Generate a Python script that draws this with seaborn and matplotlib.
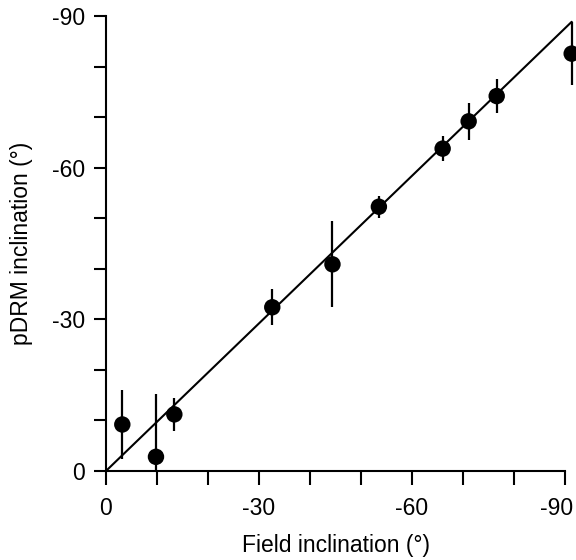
import numpy as np
import pandas as pd
import matplotlib
matplotlib.use("Agg")
import matplotlib.pyplot as plt
import matplotlib.transforms as mtransforms
import seaborn as sns

# values (degrees)
field_inc = [-3.2, -9.8, -13.4, -32.6, -44.4, -53.5, -66.0, -71.1, -76.6, -91.3]
pdrm_inc = [-9.2, -2.8, -11.2, -32.4, -40.9, -52.3, -63.8, -69.2, -74.2, -82.6]
err_up = [6.8, 12.4, 3.3, 3.6, 8.5, 2.2, 2.5, 3.6, 3.4, 6.3]
err_down = [6.9, 2.8, 3.3, 3.6, 8.5, 2.2, 2.5, 3.6, 3.4, 6.3]

# fitted line
line_x = [0, -91.3]
line_y = [0, -88.9]

df = pd.DataFrame({"field": field_inc, "pdrm": pdrm_inc})
ref = pd.DataFrame({"x": line_x, "y": line_y})

sns.set_style("ticks")
plt.rcParams["font.family"] = ["Liberation Sans", "DejaVu Sans"]
plt.rcParams["axes.unicode_minus"] = False
plt.rcParams["text.color"] = "black"
plt.rcParams["axes.labelcolor"] = "black"
plt.rcParams["xtick.labelcolor"] = "black"
plt.rcParams["ytick.labelcolor"] = "black"

fig = plt.figure(figsize=(5.76, 5.6), dpi=100)
ax = fig.add_axes([0.184, 0.159, 0.797, 0.812])

sns.lineplot(data=ref, x="x", y="y", color="black", linewidth=1.5, ax=ax)
ax.lines[-1].set_clip_on(False)
# y is inverted, so "up" on screen is the more negative side
ax.errorbar(df["field"], df["pdrm"], yerr=[err_up, err_down], fmt="none",
            ecolor="black", elinewidth=1.6, capsize=0, clip_on=False)
sns.scatterplot(data=df, x="field", y="pdrm", color="black", s=140,
                edgecolor="none", ax=ax, clip_on=False, zorder=5)

ax.set_xlim(0, -90)
ax.set_ylim(0, -90)
ax.set_xticks([0, -30, -60, -90])
ax.set_yticks([0, -30, -60, -90])
ax.set_xticks(np.arange(0, -91, -10), minor=True)
ax.set_yticks(np.arange(0, -91, -10), minor=True)
ax.set_xticklabels(["0", "-30", "-60", "-90"])
ax.set_yticklabels(["0", "-30", "-60", "-90"])

for side in ["top", "right"]:
    ax.spines[side].set_visible(False)
for side in ["left", "bottom"]:
    ax.spines[side].set_linewidth(1.5)
    ax.spines[side].set_color("black")

ax.tick_params(which="both", direction="out", length=9, width=1.5,
               color="black", labelcolor="black", labelsize=16.5)
ax.tick_params(axis="x", which="both", length=10, pad=9)
ax.tick_params(axis="y", which="both", pad=6)

# last x label sits a little left of its tick in the reference
shift = mtransforms.ScaledTranslation(-8 / 100, 0, fig.dpi_scale_trans)
lab = ax.get_xticklabels()[-1]
lab.set_transform(lab.get_transform() + shift)

ax.set_xlabel("Field inclination (°)", fontsize=16.5, labelpad=10, color="black")
ax.set_ylabel("pDRM inclination (°)", fontsize=16.5, labelpad=14, color="black")

fig.savefig("out.png", dpi=100)
